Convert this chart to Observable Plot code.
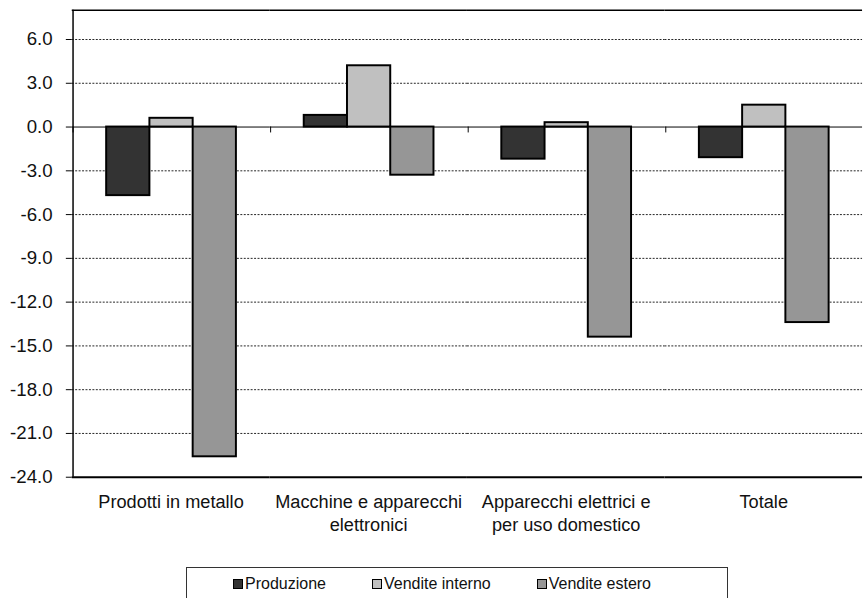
<!DOCTYPE html>
<html>
<head>
<meta charset="utf-8">
<script src="https://cdn.jsdelivr.net/npm/d3@7"></script>
<script src="https://cdn.jsdelivr.net/npm/@observablehq/plot@0.6"></script>
<style>
  html, body { margin: 0; padding: 0; overflow: hidden; background: #fff; }
  #wrap { position: relative; width: 865px; height: 598px; overflow: hidden; font-family: "Liberation Sans", Arial, sans-serif; }
  #chart { position: absolute; left: 0; top: 0; }
  #legend { position: absolute; left: 186px; top: 567px; width: 542px; height: 40px; border: 1px solid #333; box-sizing: border-box;
            display: flex; align-items: flex-start; padding-left: 46px; padding-top: 7px; gap: 46px; font-size: 16px; color: #111; }
  .item { display: flex; align-items: center; gap: 2px; line-height: 18px; }
  .sw { width: 8px; height: 8px; border: 1px solid #000; display: inline-block; }
</style>
</head>
<body>
<div id="wrap">
  <div id="chart"></div>
  <div id="legend"></div>
</div>
<script>
const categories = ["Prodotti in metallo", "Macchine e apparecchi elettronici", "Apparecchi elettrici e per uso domestico", "Totale"];
const categoryLabels = ["Prodotti in metallo", "Macchine e apparecchi\nelettronici", "Apparecchi elettrici e\nper uso domestico", "Totale"];
const series = ["Produzione", "Vendite interno", "Vendite estero"];
const colors = ["#333333", "#c0c0c0", "#969696"];
const produzione = [-4.7, 0.8, -2.2, -2.1];
const venditeInterno = [0.6, 4.2, 0.3, 1.5];
const venditeEstero = [-22.6, -3.3, -14.4, -13.4];
const yTicks = [6, 3, 0, -3, -6, -9, -12, -15, -18, -21, -24];
const yMin = -24, yMax = 8;

const values = [produzione, venditeInterno, venditeEstero];
const rows = categories.flatMap((c, i) => series.map((s, j) => ({cat: c, series: s, value: values[j][i]})));
const gridTicks = yTicks.filter(t => t !== 0 && t !== yMin);

const width = 880, height = 560, mL = 73, mR = 3, mT = 10, mB = 75;
const padOuter = 0.768;
const facetW = (width - mL - mR) / categories.length;
const step = facetW / (series.length + 2 * padOuter);
const edgeDx = -(padOuter * step + step / 2);

const chart = Plot.plot({
  width, height,
  marginLeft: mL, marginRight: mR, marginTop: mT, marginBottom: mB,
  style: {fontFamily: "'Liberation Sans', Arial, sans-serif", fontSize: "18px", color: "#111", background: "white", overflow: "visible"},
  fx: {domain: categories, padding: 0, label: null, axis: null},
  x: {domain: series, paddingInner: 0, paddingOuter: padOuter, axis: null},
  y: {domain: [yMin, yMax], axis: null},
  color: {domain: series, range: colors},
  marks: [
    Plot.ruleY(gridTicks, {stroke: "#222", strokeDasharray: "2,1.5", strokeWidth: 1}),
    Plot.ruleY([0], {stroke: "#000", strokeWidth: 1}),
    Plot.ruleX(categories, {fx: d => d, x: () => series[0], y1: 0, y2: 0, insetBottom: -6, dx: edgeDx, stroke: "#000"}),
    Plot.barY(rows, {fx: "cat", x: "series", y: "value", fill: "series", stroke: "#000", strokeWidth: 2}),
    Plot.ruleY([yMax], {stroke: "#000", strokeWidth: 1.5}),
    Plot.ruleY([yMin], {stroke: "#000", strokeWidth: 2}),
    Plot.ruleX([categories[0]], {fx: d => d, x: () => series[0], y1: yMin, y2: yMax, dx: edgeDx, stroke: "#000", strokeWidth: 1.5}),
    Plot.axisY(yTicks, {tickSize: 6, tickPadding: 14, tickFormat: d => d.toFixed(1), fontSize: 19, label: null, stroke: "#000"}),
    Plot.axisFx({anchor: "bottom", tickSize: 0, tickPadding: 15, tickFormat: d => categoryLabels[categories.indexOf(d)], lineHeight: 1.25, fontSize: 18.5, label: null})
  ]
});
document.getElementById("chart").appendChild(chart);

const legend = document.getElementById("legend");
series.forEach((s, i) => {
  const item = document.createElement("div");
  item.className = "item";
  const sw = document.createElement("span");
  sw.className = "sw";
  sw.style.background = colors[i];
  const t = document.createElement("span");
  t.textContent = s;
  item.appendChild(sw);
  item.appendChild(t);
  legend.appendChild(item);
});
</script>
</body>
</html>
